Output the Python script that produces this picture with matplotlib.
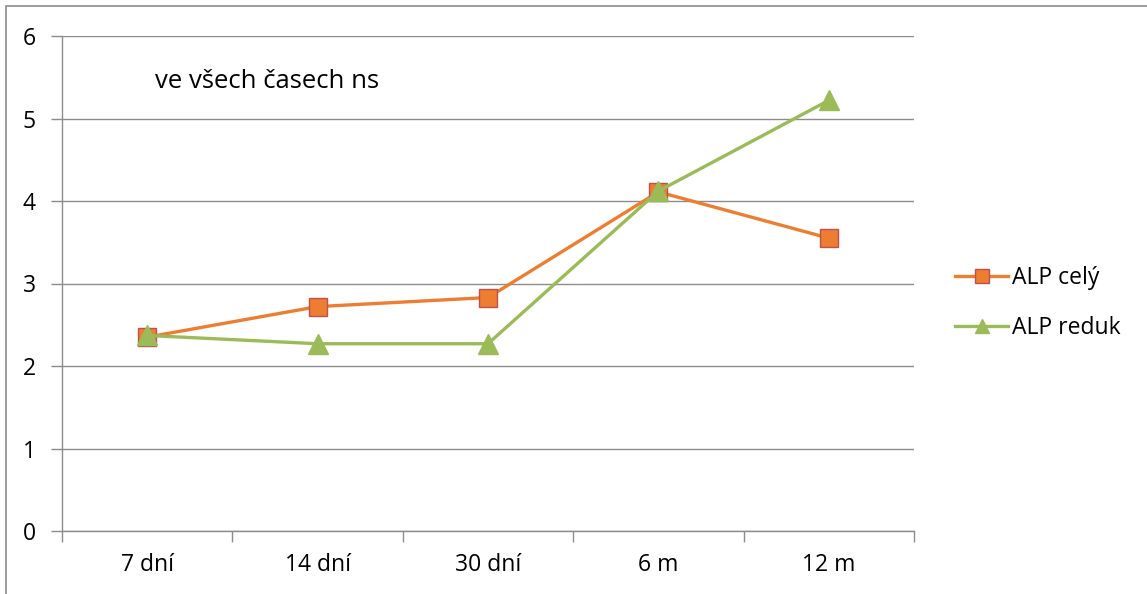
import matplotlib
matplotlib.use("Agg")
import matplotlib.pyplot as plt
from matplotlib.patches import Rectangle
from matplotlib.ticker import FixedLocator, NullFormatter

plt.rcParams['font.family'] = ['Open Sans', 'DejaVu Sans']

categories = ["7 dní", "14 dní", "30 dní", "6 m", "12 m"]
alp_cely = [2.35, 2.72, 2.83, 4.11, 3.55]
alp_reduk = [2.37, 2.27, 2.27, 4.12, 5.22]
series_names = ["ALP celý", "ALP reduk"]
note = "ve všech časech ns"

W, H = 1147, 594
FS = 16.5
fig = plt.figure(figsize=(W / 100, H / 100), dpi=100)

# outer chart border (runs off the right and bottom edges)
fig.add_artist(Rectangle((6 / W, -0.1), 1.2, 1 - 6 / H + 0.1, transform=fig.transFigure,
                         fill=False, edgecolor="#8c8c8c", linewidth=1.2))

ax = fig.add_axes([62 / W, (H - 531) / H, (914 - 62) / W, (531 - 36) / H])

x = list(range(len(categories)))
ax.plot(x, alp_cely, color="#ED7D31", linewidth=2.4, marker="s", markersize=13.5,
        markerfacecolor="#ED7D31", markeredgecolor="#C0504D", markeredgewidth=1.0,
        label=series_names[0], zorder=3)
ax.plot(x, alp_reduk, color="#9BBB59", linewidth=2.4, marker="^", markersize=14,
        markerfacecolor="#9BBB59", markeredgecolor="#9BBB59", markeredgewidth=1.0,
        label=series_names[1], zorder=4)

ax.set_xlim(-0.5, len(categories) - 0.5)
ax.set_ylim(0, 6)
ax.set_yticks(range(0, 7))
ax.yaxis.grid(True, color="#8c8c8c", linewidth=1.0)
ax.set_axisbelow(True)

# category boundaries as ticks, labels centred between them
ax.xaxis.set_major_locator(FixedLocator([i - 0.5 for i in range(len(categories) + 1)]))
ax.xaxis.set_major_formatter(NullFormatter())
ax.xaxis.set_minor_locator(FixedLocator(x))
ax.set_xticklabels(categories, minor=True)
ax.tick_params(axis="x", which="major", length=8, color="#8c8c8c", width=1)
ax.tick_params(axis="x", which="minor", length=0, pad=16, labelsize=FS)
ax.tick_params(axis="y", length=8, color="#8c8c8c", width=1, pad=11, labelsize=FS)

for side in ("top", "right"):
    ax.spines[side].set_visible(False)
for side in ("left", "bottom"):
    ax.spines[side].set_color("#8c8c8c")
    ax.spines[side].set_linewidth(1.0)

# annotation placed in display pixels measured from the top edge
ax.text(155, H - 88, note, transform=None, fontsize=18.5, va="baseline", ha="left")

fig.legend(loc="center left", bbox_to_anchor=(934 / W, 1 - 303 / H), frameon=False,
           fontsize=FS, handlelength=2.35, handletextpad=0.17, labelspacing=1.16,
           markerscale=0.75)

fig.savefig("out.png", dpi=100)
